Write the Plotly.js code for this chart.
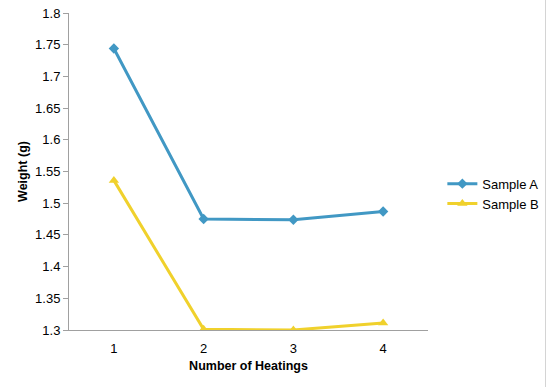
<!DOCTYPE html>
<html>
<head>
<meta charset="utf-8">
<script src="https://cdn.plot.ly/plotly-3.0.1.min.js"></script>
<style>
html,body{margin:0;padding:0;background:#fff;}
#chart{width:545px;height:387px;border-right:1px solid #d4d4d4;box-sizing:content-box;}
</style>
</head>
<body>
<div id="chart"></div>
<script>
var heatings = ['1', '2', '3', '4'];
var sampleA = [1.744, 1.475, 1.474, 1.487];
var sampleB = [1.536, 1.301, 1.300, 1.311];
var yTicks = [1.3, 1.35, 1.4, 1.45, 1.5, 1.55, 1.6, 1.65, 1.7, 1.75, 1.8];
var yTickText = ['1.3', '1.35', '1.4', '1.45', '1.5', '1.55', '1.6', '1.65', '1.7', '1.75', '1.8'];

var traces = [
  {x: heatings, y: sampleA, name: 'Sample A', type: 'scatter', mode: 'lines+markers',
   line: {color: '#4198c4', width: 3}, marker: {symbol: 'diamond', size: 8, color: '#4198c4'}},
  {x: heatings, y: sampleB, name: 'Sample B', type: 'scatter', mode: 'lines+markers',
   line: {color: '#f0d12c', width: 3}, marker: {symbol: 'triangle-up', size: 9, color: '#f0d12c'}}
];

var layout = {
  width: 545, height: 387,
  margin: {l: 69, r: 117, t: 13, b: 57, autoexpand: false},
  paper_bgcolor: '#fff', plot_bgcolor: '#fff',
  font: {family: 'Liberation Sans, Arial, sans-serif', size: 13, color: '#000'},
  showlegend: true,
  legend: {x: 1.04, y: 0.43, xanchor: 'left', yanchor: 'middle', font: {size: 13}, bgcolor: 'rgba(0,0,0,0)', tracegroupgap: 2},
  xaxis: {
    type: 'category', range: [-0.5, 3.5],
    showline: true, linecolor: '#a0a0a0', linewidth: 1,
    showgrid: false, zeroline: false, ticks: 'outside', ticklen: 6, tickcolor: 'rgba(0,0,0,0)',
    tickfont: {size: 13},
    title: {text: 'Number of Heatings', font: {size: 12.5, weight: 'bold'}, standoff: 6}
  },
  yaxis: {
    range: [1.3, 1.8], tickvals: yTicks, ticktext: yTickText,
    showline: true, linecolor: '#a0a0a0', linewidth: 1,
    showgrid: false, zeroline: false, ticks: 'outside', ticklen: 5, tickcolor: '#a0a0a0',
    tickfont: {size: 13},
    title: {text: 'Weight (g)', font: {size: 12.5, weight: 'bold'}, standoff: 4}
  }
};

Plotly.newPlot('chart', traces, layout, {displayModeBar: false, staticPlot: true});
</script>
</body>
</html>
